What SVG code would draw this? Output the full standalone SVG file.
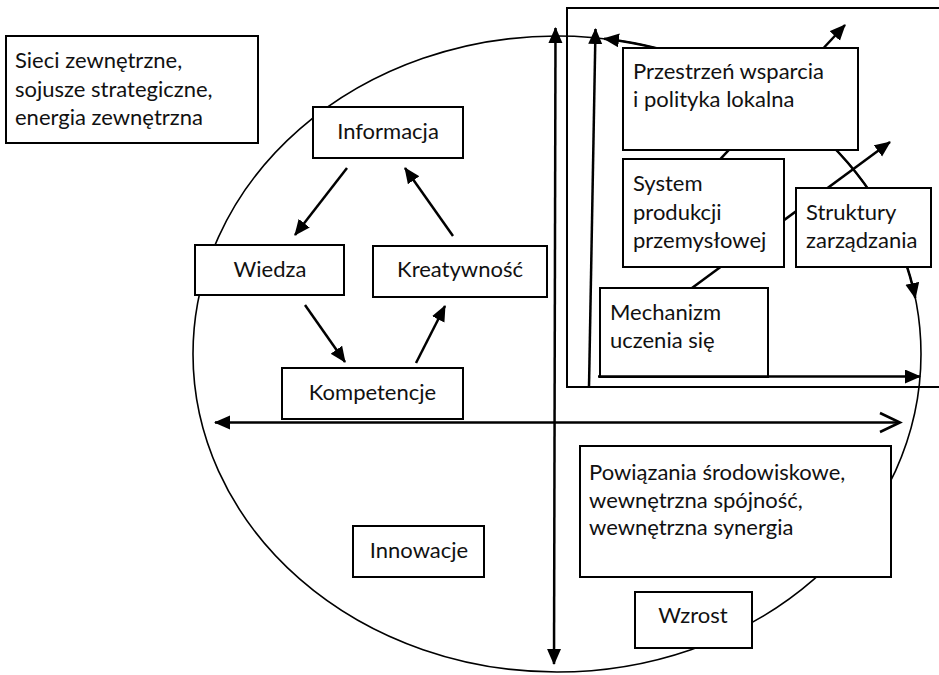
<svg xmlns="http://www.w3.org/2000/svg" width="939" height="675" viewBox="0 0 939 675">
  <style>
    .box { fill: #ffffff; stroke: #000000; stroke-width: 2; }
    .lbl { font-family: Lato, "Liberation Sans", "Noto Sans", sans-serif; font-size: 22px; fill: #111111; }
    .mid { text-anchor: middle; }
    .ln { fill: none; stroke: #000000; stroke-width: 2.5; }
    .arr { fill: none; stroke: #000000; stroke-width: 2.5; marker-end: url(#head); }
    .thin { fill: none; stroke: #000000; stroke-width: 1.6; }
  </style>
  <defs>
    <marker id="head" markerUnits="userSpaceOnUse" markerWidth="17" markerHeight="15" refX="15" refY="7" orient="auto-start-reverse">
      <path d="M0,0 L16,7 L0,14 Z" fill="#000000"/>
    </marker>
  </defs>

  <rect width="939" height="675" fill="#ffffff"/>

  <!-- large ellipse enclosing the model -->
  <ellipse id="outline" cx="557" cy="354" rx="364" ry="318" class="thin"/>

  <!-- open frame in the upper right -->
  <path id="frame" d="M939,8 H567 V387 H939" fill="none" stroke="#000" stroke-width="2"/>

  <g id="connectors">
    <!-- axes -->
    <line x1="555.5" y1="28" x2="554" y2="664" class="ln" marker-start="url(#head)" marker-end="url(#head)"/>
    <line x1="215" y1="422.5" x2="899" y2="422.5" class="ln" marker-start="url(#head)"/>
    <path d="M880,413 L900,422.5 L880,432" class="ln"/>
    <!-- arrows inside the frame -->
    <line x1="589" y1="387" x2="595.5" y2="29" class="arr"/>
    <line x1="692" y1="288" x2="890" y2="142" class="arr"/>
    <line x1="660" y1="224" x2="845" y2="25" class="arr"/>
    <!-- arc along the ellipse, both endpoints on the outline -->
    <path d="M604,38.66 A364,318 0 0 1 915.31,298" class="ln" marker-start="url(#head)" marker-end="url(#head)"/>
    <!-- knowledge cycle -->
    <line x1="347" y1="168" x2="295" y2="235" class="arr"/>
    <line x1="305" y1="305" x2="345" y2="362" class="arr"/>
    <line x1="416" y1="363" x2="445" y2="306" class="arr"/>
    <line x1="453" y1="236" x2="405" y2="168" class="arr"/>
  </g>

  <g id="sieci">
    <rect x="6" y="36" width="252" height="107" class="box"/>
    <text class="lbl" x="15" y="68">Sieci zewnętrzne,</text>
    <text class="lbl" x="15" y="97">sojusze strategiczne,</text>
    <text class="lbl" x="15" y="125">energia zewnętrzna</text>
  </g>
  <g id="informacja">
    <rect x="313" y="107" width="150" height="51" class="box"/>
    <text class="lbl mid" x="388" y="139">Informacja</text>
  </g>
  <g id="wiedza">
    <rect x="195" y="245" width="149" height="50" class="box"/>
    <text class="lbl mid" x="270" y="277">Wiedza</text>
  </g>
  <g id="kreatywnosc">
    <rect x="373" y="246" width="174" height="51" class="box"/>
    <text class="lbl mid" x="460" y="277">Kreatywność</text>
  </g>
  <g id="kompetencje">
    <rect x="282" y="368" width="181" height="51" class="box"/>
    <text class="lbl mid" x="372.5" y="400">Kompetencje</text>
  </g>
  <g id="innowacje">
    <rect x="353" y="526" width="131" height="51" class="box"/>
    <text class="lbl mid" x="419" y="558">Innowacje</text>
  </g>
  <g id="przestrzen">
    <rect x="623" y="48" width="235" height="102" class="box"/>
    <text class="lbl" x="633" y="79">Przestrzeń wsparcia</text>
    <text class="lbl" x="633" y="107">i polityka lokalna</text>
  </g>
  <g id="system">
    <rect x="623" y="159" width="161" height="108" class="box"/>
    <text class="lbl" x="633" y="191">System</text>
    <text class="lbl" x="633" y="220">produkcji</text>
    <text class="lbl" x="633" y="248">przemysłowej</text>
  </g>
  <g id="struktury">
    <rect x="796" y="188" width="135" height="79" class="box"/>
    <text class="lbl" x="806" y="220">Struktury</text>
    <text class="lbl" x="806" y="248">zarządzania</text>
  </g>
  <g id="mechanizm">
    <rect x="600" y="288" width="168" height="89" class="box"/>
    <text class="lbl" x="610" y="320">Mechanizm</text>
    <text class="lbl" x="610" y="348">uczenia się</text>
  </g>
  <g id="powiazania">
    <rect x="580" y="446" width="311" height="131" class="box"/>
    <text class="lbl" x="589" y="480">Powiązania środowiskowe,</text>
    <text class="lbl" x="589" y="508">wewnętrzna spójność,</text>
    <text class="lbl" x="589" y="535">wewnętrzna synergia</text>
  </g>
  <g id="wzrost">
    <rect x="635" y="592" width="117" height="56" class="box"/>
    <text class="lbl mid" x="693" y="623">Wzrost</text>
  </g>

  <!-- learning arrow along the bottom of the frame, drawn over its box edge -->
  <line id="learning-arrow" x1="598" y1="376.5" x2="920" y2="376.5" class="arr"/>
</svg>
